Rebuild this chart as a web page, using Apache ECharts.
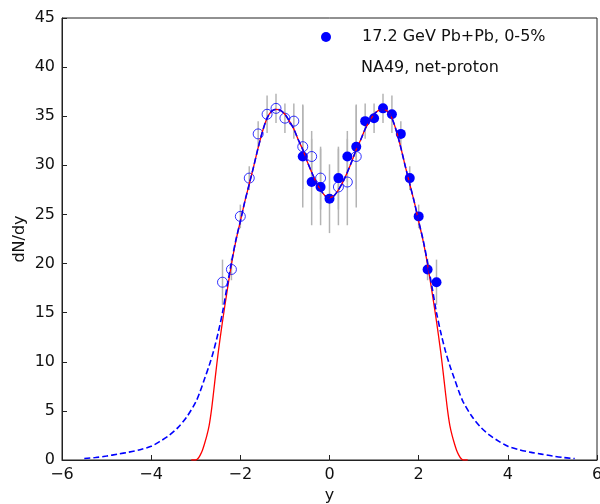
<!DOCTYPE html>
<html>
<head>
<meta charset="utf-8">
<script src="https://cdn.jsdelivr.net/npm/echarts@6/dist/echarts.min.js"></script>
<style>
    html, body { margin: 0; padding: 0; background: #fff; }
    #main { width: 600px; height: 504px; }
</style>
</head>
<body>
<div id="main"></div>
<script>
// NA49 测量点（实心）
var measY = [-0.6, -0.4, -0.2, 0, 0.2, 0.4, 0.6, 0.8, 1.0, 1.2, 1.4, 1.6, 1.8, 2.0, 2.2, 2.4];
var measV = [30.9, 28.3, 27.8, 26.6, 28.7, 30.9, 31.9, 34.5, 34.8, 35.8, 35.2, 33.2, 28.7, 24.8, 19.4, 18.1];
var measErr = [5.2, 4.4, 3.9, 3.5, 3.2, 2.6, 4.3, 1.8, 1.5, 1.5, 1.9, 1.3, 1.2, 1.2, 1.1, 2.3];
// 反射点（空心）
var reflY = [0.6, 0.4, 0.2, -0.2, -0.4, -0.6, -0.8, -1.0, -1.2, -1.4, -1.6, -1.8, -2.0, -2.2, -2.4];
var reflV = [30.9, 28.3, 27.8, 28.7, 30.9, 31.9, 34.5, 34.8, 35.8, 35.2, 33.2, 28.7, 24.8, 19.4, 18.1];
var reflErr = [5.2, 4.4, 3.9, 3.2, 2.6, 4.3, 1.8, 1.5, 1.5, 1.9, 1.3, 1.2, 1.2, 1.1, 2.3];

// 红色实线
var redY = [-3.1, -3.0, -2.95, -2.9, -2.85, -2.8, -2.75, -2.7, -2.65, -2.6, -2.55, -2.5, -2.45, -2.4, -2.3, -2.2, -2.1,
    -2.0, -1.9, -1.8, -1.7, -1.6, -1.5, -1.4, -1.3, -1.2, -1.1, -1.0, -0.9, -0.8, -0.7, -0.6, -0.5, -0.4, -0.3, -0.2, -0.1,
    0, 0.1, 0.2, 0.3, 0.4, 0.5, 0.6, 0.7, 0.8, 0.9, 1.0, 1.1, 1.2, 1.3, 1.4, 1.5, 1.6, 1.7, 1.8, 1.9, 2.0,
    2.1, 2.2, 2.3, 2.4, 2.45, 2.5, 2.55, 2.6, 2.65, 2.7, 2.75, 2.8, 2.85, 2.9, 2.95, 3.0, 3.1];
var redV = [0, 0, 0.15, 0.5, 1.0, 1.7, 2.5, 3.5, 5.0, 6.9, 8.9, 10.8, 12.5, 14.1, 17.1, 19.9, 22.3,
    24.3, 26.3, 28.1, 29.9, 31.8, 33.5, 34.8, 35.5, 35.7, 35.6, 35.2, 34.5, 33.7, 32.6, 31.6, 30.4, 29.3, 28.3, 27.5, 26.9,
    26.7, 26.9, 27.5, 28.3, 29.3, 30.4, 31.6, 32.6, 33.7, 34.5, 35.2, 35.6, 35.7, 35.5, 34.8, 33.5, 31.8, 29.9, 28.1, 26.3, 24.3,
    22.3, 19.9, 17.1, 14.1, 12.5, 10.8, 8.9, 6.9, 5.0, 3.5, 2.5, 1.7, 1.0, 0.5, 0.15, 0, 0];

// 蓝色虚线
var blueY = [-5.5, -5.25, -5.0, -4.75, -4.5, -4.25, -4.0, -3.8, -3.6, -3.4, -3.2, -3.0, -2.9, -2.8, -2.7, -2.6, -2.5, -2.4, -2.3, -2.2, -2.1,
    -2.0, -1.9, -1.8, -1.7, -1.6, -1.5, -1.4, -1.3, -1.2, -1.1, -1.0, -0.9, -0.8, -0.7, -0.6, -0.5, -0.4, -0.3, -0.2, -0.1,
    0, 0.1, 0.2, 0.3, 0.4, 0.5, 0.6, 0.7, 0.8, 0.9, 1.0, 1.1, 1.2, 1.3, 1.4, 1.5, 1.6, 1.7, 1.8, 1.9, 2.0,
    2.1, 2.2, 2.3, 2.4, 2.5, 2.6, 2.7, 2.8, 2.9, 3.0, 3.2, 3.4, 3.6, 3.8, 4.0, 4.25, 4.5, 4.75, 5.0, 5.25, 5.5];
var blueV = [0.15, 0.25, 0.4, 0.6, 0.8, 1.05, 1.4, 1.9, 2.5, 3.3, 4.4, 5.9, 7.0, 8.3, 9.6, 11.1, 12.9, 15.0, 17.6, 20.1, 22.4,
    24.3, 26.3, 28.1, 29.9, 31.8, 33.5, 34.8, 35.5, 35.7, 35.6, 35.2, 34.5, 33.7, 32.6, 31.6, 30.4, 29.3, 28.3, 27.5, 26.9,
    26.7, 26.9, 27.5, 28.3, 29.3, 30.4, 31.6, 32.6, 33.7, 34.5, 35.2, 35.6, 35.7, 35.5, 34.8, 33.5, 31.8, 29.9, 28.1, 26.3, 24.3,
    22.4, 20.1, 17.6, 15.0, 12.9, 11.1, 9.6, 8.3, 7.0, 5.9, 4.4, 3.3, 2.5, 1.9, 1.4, 1.05, 0.8, 0.6, 0.4, 0.25, 0.15];

var xTicks = [-6, -4, -2, 0, 2, 4, 6];
var yTicks = [0, 5, 10, 15, 20, 25, 30, 35, 40, 45];

var FONT = 'DejaVu Sans';

function zip(a, b) {
    var out = [];
    for (var i = 0; i < a.length; i++) out.push([a[i], b[i]]);
    return out;
}
function errData(ys, vs, es) {
    var out = [];
    for (var i = 0; i < ys.length; i++) out.push([ys[i], vs[i] - es[i], vs[i] + es[i]]);
    return out;
}
function minusFmt(v) {
    return v < 0 ? '\u2212' + (-v) : String(v);
}

// 误差棒
function renderErr(params, api) {
    var p1 = api.coord([api.value(0), api.value(1)]);
    var p2 = api.coord([api.value(0), api.value(2)]);
    return {
        type: 'line',
        shape: { x1: p1[0], y1: p1[1], x2: p2[0], y2: p2[1] },
        style: { stroke: '#b4b4b4', lineWidth: 1.5 }
    };
}

var chart = echarts.init(document.getElementById('main'), null, { renderer: 'canvas' });
var option = {
    animation: false,
    backgroundColor: '#fff',
    grid: {
        left: 62, right: 3, top: 18, bottom: 44, outerBoundsMode: 'none', containLabel: false,
        show: true, borderColor: '#222', borderWidth: 1, backgroundColor: 'transparent'
    },
    legend: {
        left: 316, top: 24,
        data: [{ name: '17.2 GeV Pb+Pb, 0-5%', icon: 'circle' }],
        itemWidth: 10, itemHeight: 10,
        textStyle: { fontFamily: FONT, fontSize: 16, color: '#111', padding: [0, 0, 0, 26] }
    },
    graphic: [{
        type: 'text', left: 361, top: 60,
        style: { text: 'NA49, net-proton', fontFamily: FONT, fontSize: 16, fill: '#111' }
    }],
    xAxis: {
        type: 'value', min: -6, max: 6, interval: 2,
        name: 'y', nameLocation: 'middle', nameGap: 25,
        nameTextStyle: { fontFamily: FONT, fontSize: 16, color: '#111' },
        axisLine: { lineStyle: { color: '#222', width: 1 } },
        axisTick: { inside: true, length: 5, lineStyle: { color: '#222' } },
        axisLabel: {
            fontFamily: FONT, fontSize: 16, color: '#111', margin: 7,
            formatter: function (v) { return xTicks.indexOf(v) >= 0 ? minusFmt(v) : ''; }
        },
        splitLine: { show: false }
    },
    yAxis: {
        type: 'value', min: 0, max: 45, interval: 5,
        name: 'dN/dy', nameLocation: 'middle', nameGap: 34, nameMoveOverlap: false,
        nameTextStyle: { fontFamily: FONT, fontSize: 16, color: '#111' },
        axisLine: { show: true, onZero: false, lineStyle: { color: '#222', width: 1 } },
        axisTick: { show: true, inside: true, length: 5, lineStyle: { color: '#222' } },
        axisLabel: {
            fontFamily: FONT, fontSize: 16, color: '#111', margin: 7,
            formatter: function (v) { return yTicks.indexOf(v) >= 0 ? String(v) : ''; }
        },
        splitLine: { show: false }
    },
    series: [
        {
            name: 'err1', type: 'custom', renderItem: renderErr, z: 1,
            encode: { x: 0, y: [1, 2] },
            data: errData(measY, measV, measErr)
        },
        {
            name: 'err2', type: 'custom', renderItem: renderErr, z: 1,
            encode: { x: 0, y: [1, 2] },
            data: errData(reflY, reflV, reflErr)
        },
        {
            name: '17.2 GeV Pb+Pb, 0-5%', type: 'scatter', z: 3,
            symbol: 'circle', symbolSize: 10,
            itemStyle: { color: '#0000ff', opacity: 1 },
            data: zip(measY, measV)
        },
        {
            name: 'reflected', type: 'scatter', z: 3,
            symbol: 'circle', symbolSize: 10,
            itemStyle: { color: 'rgba(255,255,255,0)', borderColor: '#0000ff', borderWidth: 1 },
            data: zip(reflY, reflV)
        },
        {
            name: 'red', type: 'line', z: 4, smooth: 0.3, symbol: 'none',
            lineStyle: { color: '#ff0000', width: 1.3 },
            data: zip(redY, redV)
        },
        {
            name: 'blue', type: 'line', z: 5, smooth: 0.3, symbol: 'none',
            lineStyle: { color: '#0000ff', width: 1.6, type: [6, 3] },
            data: zip(blueY, blueV)
        }
    ]
};
chart.setOption(option);
</script>
</body>
</html>
